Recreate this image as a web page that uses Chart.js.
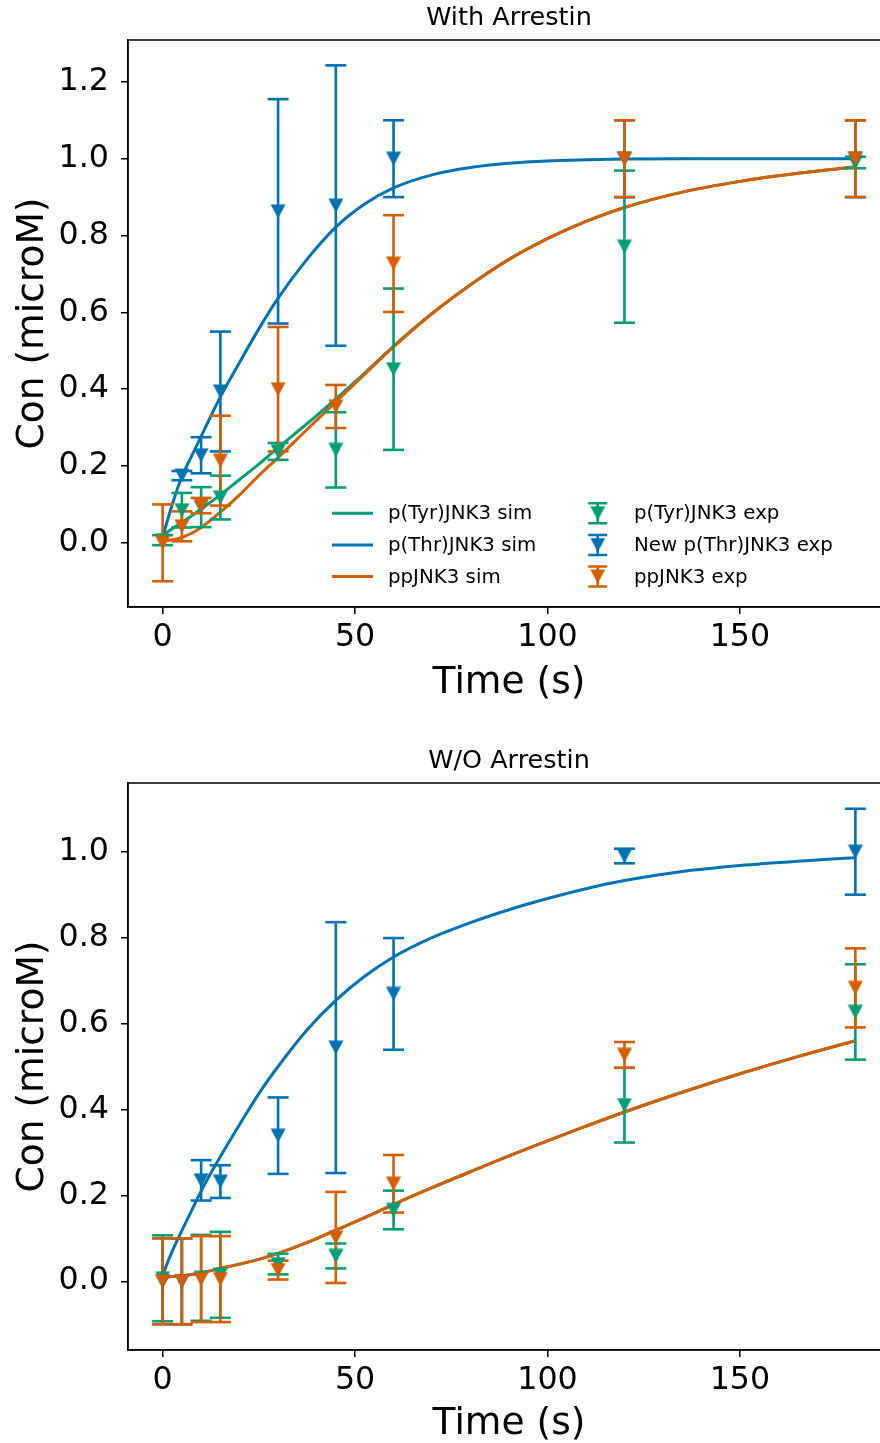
<!DOCTYPE html>
<html>
<head>
<meta charset="utf-8">
<script src="https://cdn.jsdelivr.net/npm/chart.js@4.4.0/dist/chart.umd.min.js"></script>
<style>
html,body{margin:0;padding:0;background:#fff;overflow:hidden;width:880px;height:1443px;}
.wrap{position:absolute;left:0;width:880px;overflow:hidden;}
#w1{top:0;height:722px;}
#w2{top:722px;height:721px;}
canvas{display:block;}
</style>
</head>
<body>
<div class="wrap" id="w1"><canvas id="c1" width="892" height="722"></canvas></div>
<div class="wrap" id="w2"><canvas id="c2" width="892" height="730"></canvas></div>
<script>
// ---------------- DATA ----------------
const expTimes = [0, 5, 10, 15, 30, 45, 60, 120, 180];
const simTimes = [0, 2.5, 5, 7.5, 10, 15, 20, 25, 30, 37.5, 45, 52.5, 60, 70, 80, 90, 100, 110, 120, 135, 150, 165, 180];

const xTickValues = [0, 50, 100, 150];
const yTickValuesA = [0.0, 0.2, 0.4, 0.6, 0.8, 1.0, 1.2];
const yTickValuesB = [0.0, 0.2, 0.4, 0.6, 0.8, 1.0];

const simLabels = ['p(Tyr)JNK3 sim', 'p(Thr)JNK3 sim', 'ppJNK3 sim'];
const expLabels = ['p(Tyr)JNK3 exp', 'New p(Thr)JNK3 exp', 'ppJNK3 exp'];
const titles = ['With Arrestin', 'W/O Arrestin'];

// With Arrestin - simulations
const tyrSimA = [0.02, 0.037, 0.053, 0.07, 0.088, 0.125, 0.165, 0.205, 0.248, 0.31, 0.375, 0.442, 0.512, 0.597, 0.672, 0.738, 0.792, 0.837, 0.873, 0.913, 0.941, 0.962, 0.979];
const thrSimA = [0.015, 0.1, 0.172, 0.225, 0.277, 0.38, 0.47, 0.557, 0.637, 0.738, 0.822, 0.882, 0.924, 0.958, 0.977, 0.988, 0.994, 0.997, 0.999, 1.0, 1.0, 1.0, 1.0];
const ppSimA  = [0.005, 0.008, 0.014, 0.025, 0.04, 0.08, 0.125, 0.175, 0.222, 0.295, 0.367, 0.439, 0.51, 0.597, 0.672, 0.738, 0.792, 0.837, 0.873, 0.913, 0.941, 0.962, 0.979];
// With Arrestin - experiments
const tyrExpA = [0.007, 0.085, 0.093, 0.118, 0.238, 0.242, 0.452, 0.771, 0.99];
const tyrErrA = [0.013, 0.045, 0.052, 0.057, 0.022, 0.098, 0.21, 0.198, 0.015];
const thrExpA = [null, 0.175, 0.228, 0.394, 0.863, 0.878, 1.0, 1.0, 1.0];
const thrErrA = [null, 0.012, 0.047, 0.156, 0.292, 0.365, 0.1, 0.1, 0.1];
const ppExpA  = [0.0, 0.043, 0.097, 0.214, 0.40, 0.355, 0.727, 1.0, 1.0];
const ppErrA  = [0.1, 0.039, 0.02, 0.117, 0.162, 0.056, 0.126, 0.1, 0.1];

// W/O Arrestin - simulations
const tyrSimB = [0.01, 0.011, 0.013, 0.016, 0.02, 0.03, 0.04, 0.051, 0.065, 0.09, 0.119, 0.148, 0.179, 0.218, 0.255, 0.292, 0.327, 0.361, 0.394, 0.44, 0.483, 0.523, 0.56];
const thrSimB = [0.015, 0.07, 0.118, 0.164, 0.21, 0.29, 0.365, 0.437, 0.5, 0.585, 0.654, 0.71, 0.755, 0.8, 0.835, 0.865, 0.891, 0.914, 0.933, 0.954, 0.968, 0.978, 0.986];
const ppSimB  = [0.01, 0.011, 0.013, 0.016, 0.02, 0.03, 0.04, 0.051, 0.065, 0.09, 0.119, 0.148, 0.179, 0.218, 0.255, 0.292, 0.327, 0.361, 0.394, 0.44, 0.483, 0.523, 0.56];
// W/O Arrestin - experiments
const tyrExpB = [0.007, 0.0, 0.008, 0.015, 0.04, 0.059, 0.166, 0.41, 0.627];
const tyrErrB = [0.1, 0.1, 0.1, 0.1, 0.024, 0.029, 0.045, 0.087, 0.111];
const thrExpB = [0.0, 0.0, 0.235, 0.232, 0.339, 0.544, 0.669, 0.99, 1.0];
const thrErrB = [0.1, 0.1, 0.047, 0.038, 0.089, 0.292, 0.13, 0.017, 0.1];
const ppExpB  = [0.0, 0.0, 0.005, 0.005, 0.026, 0.102, 0.227, 0.527, 0.683];
const ppErrB  = [0.1, 0.1, 0.1, 0.1, 0.022, 0.106, 0.067, 0.03, 0.092];

// ---------------- STYLE ----------------
const GREEN = '#009E73', BLUE = '#0072B2', ORANGE = '#D55E00';
const COLORS = [GREEN, BLUE, ORANGE];
const FONT = 'DejaVu Sans';
Chart.defaults.font.family = FONT;
Chart.defaults.color = '#000';

function triangle(color) {
  const c = document.createElement('canvas');
  c.width = 16; c.height = 15;
  const g = c.getContext('2d');
  g.fillStyle = color;
  g.beginPath();
  g.moveTo(0.5, 0.5); g.lineTo(15.5, 0.5); g.lineTo(8, 14.5); g.closePath();
  g.fill();
  return c;
}
const TRI = COLORS.map(triangle);

function pts(xs, ys) {
  const out = [];
  xs.forEach((x, i) => { if (ys[i] !== null) out.push({x: x, y: ys[i]}); });
  return out;
}
function barPts(xs, ys, es) {
  const out = [];
  xs.forEach((x, i) => {
    if (ys[i] === null) return;
    out.push({x: x, y: ys[i] - es[i]}, {x: x, y: ys[i] + es[i]}, {x: x, y: null});
  });
  return out;
}
function capPts(xs, ys, es) {
  const out = [];
  xs.forEach((x, i) => {
    if (ys[i] === null) return;
    out.push({x: x, y: ys[i] - es[i]}, {x: x, y: ys[i] + es[i]});
  });
  return out;
}

function buildDatasets(sims, exps, errs) {
  const ds = [];
  let order = 100;
  sims.forEach((s, k) => ds.push({
    type: 'line', label: simLabels[k], data: pts(simTimes, s),
    borderColor: COLORS[k], backgroundColor: COLORS[k], borderWidth: 3,
    pointRadius: 0, fill: false, cubicInterpolationMode: 'monotone', order: order--
  }));
  exps.forEach((e, k) => {
    ds.push({
      type: 'line', label: expLabels[k] + ' error', data: barPts(expTimes, e, errs[k]),
      borderColor: COLORS[k], borderWidth: 2.6, pointRadius: 0, spanGaps: false,
      fill: false, order: order--
    });
    ds.push({
      type: 'scatter', label: expLabels[k] + ' caps', data: capPts(expTimes, e, errs[k]),
      pointStyle: 'line', pointRadius: 10.5, pointBorderWidth: 2.6,
      borderColor: COLORS[k], pointBorderColor: COLORS[k], backgroundColor: COLORS[k],
      order: order--
    });
  });
  exps.forEach((e, k) => ds.push({
    type: 'scatter', label: expLabels[k], data: pts(expTimes, e),
    pointStyle: TRI[k], pointRadius: 8, borderColor: COLORS[k], backgroundColor: COLORS[k],
    order: order--
  }));
  return ds;
}

const framePlugin = {
  id: 'frame',
  afterDraw(chart) {
    const a = chart.chartArea, ctx = chart.ctx;
    ctx.save();
    ctx.strokeStyle = '#000';
    ctx.lineWidth = 1.5;
    ctx.strokeRect(a.left, a.top, a.right - a.left, a.bottom - a.top);
    ctx.restore();
  }
};

const legendPlugin = {
  id: 'inlineLegend',
  afterDraw(chart, args, opts) {
    if (!opts.show) return;
    const a = chart.chartArea, ctx = chart.ctx;
    const rows = [a.bottom - 93.7, a.bottom - 62, a.bottom - 30.5];
    ctx.save();
    ctx.font = '19.8px "' + FONT + '"';
    ctx.textBaseline = 'middle';
    ctx.textAlign = 'left';
    rows.forEach((y, k) => {
      ctx.strokeStyle = COLORS[k];
      ctx.lineWidth = 3;
      ctx.beginPath(); ctx.moveTo(332, y); ctx.lineTo(373, y); ctx.stroke();
      ctx.fillStyle = '#000';
      ctx.fillText(simLabels[k], 388, y + 1);
      const cx = 597.7;
      ctx.lineWidth = 2.6;
      ctx.beginPath();
      ctx.moveTo(cx, y - 10); ctx.lineTo(cx, y + 10);
      ctx.moveTo(cx - 9.5, y - 10); ctx.lineTo(cx + 9.5, y - 10);
      ctx.moveTo(cx - 9.5, y + 10); ctx.lineTo(cx + 9.5, y + 10);
      ctx.stroke();
      ctx.drawImage(TRI[k], cx - 8, y - 7.5);
      ctx.fillStyle = '#000';
      ctx.fillText(expLabels[k], 634, y + 1);
    });
    ctx.restore();
  }
};

function makeChart(id, title, titlePadTop, datasets, yMin, yMax, yTicks, xTitlePadBottom, xAxisHeight, showLegend) {
  return new Chart(document.getElementById(id), {
    type: 'scatter',
    data: {datasets: datasets},
    options: {
      responsive: false,
      animation: false,
      events: [],
      layout: {autoPadding: false, padding: {left: 0, right: 2, top: 0, bottom: 0}},
      plugins: {
        legend: {display: false},
        tooltip: {enabled: false},
        title: {
          display: true, text: title, fullSize: false, color: '#000',
          font: {family: FONT, size: 25.5, weight: 'normal', lineHeight: 1.2},
          padding: {top: titlePadTop, bottom: 6.4}
        },
        inlineLegend: {show: showLegend}
      },
      scales: {
        x: {
          type: 'linear', min: -9, max: 189,
          afterBuildTicks: (axis) => { axis.ticks = xTickValues.map(v => ({value: v})); },
          afterFit: (axis) => { axis.height = xAxisHeight; },
          ticks: {
            font: {family: FONT, size: 31.7}, color: '#000', padding: 5,
            maxRotation: 0, autoSkip: false, callback: (v) => String(v)
          },
          grid: {drawOnChartArea: false, drawTicks: true, tickLength: 7, color: '#000', lineWidth: 1.5},
          border: {display: true, color: '#000', width: 1.5},
          title: {
            display: true, text: 'Time (s)', color: '#000',
            font: {family: FONT, size: 37.6, lineHeight: 1.2},
            padding: {top: 0, bottom: xTitlePadBottom}
          }
        },
        y: {
          type: 'linear', min: yMin, max: yMax,
          afterBuildTicks: (axis) => { axis.ticks = yTicks.map(v => ({value: v})); },
          afterFit: (axis) => { axis.width = 128; },
          ticks: {
            font: {family: FONT, size: 31.7}, color: '#000', padding: 12,
            autoSkip: false, callback: (v) => Number(v).toFixed(1)
          },
          grid: {drawOnChartArea: false, drawTicks: true, tickLength: 7, color: '#000', lineWidth: 1.5},
          border: {display: true, color: '#000', width: 1.5},
          title: {
            display: true, text: 'Con (microM)', color: '#000',
            font: {family: FONT, size: 37.6, lineHeight: 1.2},
            padding: {top: 11, bottom: 0}
          }
        }
      }
    },
    plugins: [framePlugin, legendPlugin]
  });
}

makeChart('c1', titles[0], 3.0,
  buildDatasets([tyrSimA, thrSimA, ppSimA], [tyrExpA, thrExpA, ppExpA], [tyrErrA, thrErrA, ppErrA]),
  -0.167, 1.309, yTickValuesA, 16.4, 115, true);

makeChart('c2', titles[1], 24.0,
  buildDatasets([tyrSimB, thrSimB, ppSimB], [tyrExpB, thrExpB, ppExpB], [tyrErrB, thrErrB, ppErrB]),
  -0.16, 1.16, yTickValuesB, 5.4, 102, false);
</script>
</body>
</html>
